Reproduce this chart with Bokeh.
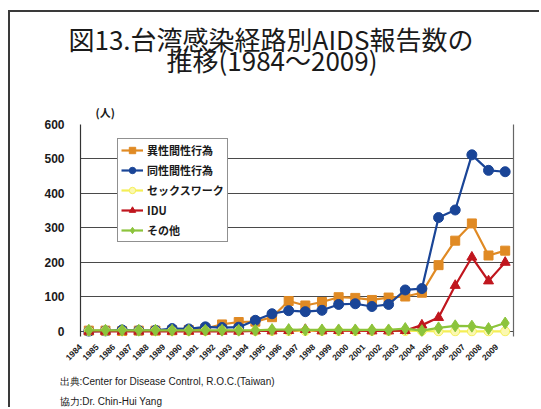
from bokeh.plotting import figure
from bokeh.models import Range1d, LinearAxis, FixedTicker, Title
from bokeh.embed import file_html
from bokeh.resources import INLINE

years = ["1984", "1985", "1986", "1987", "1988", "1989", "1990", "1991", "1992",
         "1993", "1994", "1995", "1996", "1997", "1998", "1999", "2000", "2001",
         "2002", "2003", "2004", "2005", "2006", "2007", "2008", "2009"]
hetero = [2, 2, 1, 2, 2, 3, 4, 8, 20, 27, 28, 41, 88, 75, 85, 99, 97, 91, 98, 101,
          112, 192, 263, 313, 220, 234]
homo = [0, 1, 4, 2, 3, 8, 7, 13, 11, 12, 32, 51, 60, 57, 61, 78, 80, 72, 78, 120,
        124, 330, 352, 512, 467, 463]
sexwork = [1, 1, 1, 1, 1, 1, 1, 1, 2, 2, 1, 1, 1, 1, 1, 1, 1, 1, 1, 1,
           1, 0, 0, 0, 0, 0]
idu = [0, 0, 0, 0, 0, 0, 0, 0, 0, 0, 1, 1, 2, 5, 1, 2, 2, 1, 1, 2,
       18, 40, 133, 215, 146, 200]
other = [3, 3, 3, 3, 3, 3, 3, 3, 3, 3, 3, 5, 5, 4, 4, 4, 4, 4, 4, 8,
         2, 10, 16, 15, 8, 24]
y_ticks = [0, 100, 200, 300, 400, 500, 600]

series = [
    ("異性間性行為", hetero, "#E08A24", "square", 9, "#E08A24"),
    ("同性間性行為", homo, "#1A4597", "circle", 10, "#1A4597"),
    ("セックスワーク", sexwork, "#F4EE55", "circle", 9, "#FBF8B0"),
    ("IDU", idu, "#C0161E", "triangle", 10, "#C0161E"),
    ("その他", other, "#8CC43C", "diamond", 12, "#8CC43C"),
]

# category slots: each year occupies one unit, point at slot centre
xs = [i + 0.5 for i in range(len(years))]
label_pos = [i for i in range(len(years))]  # labels drawn half a slot to the left

W, H = 531, 397
FL, FR, FT, FB = 70, 503, 112, 324   # frame edges in canvas px
NX = len(years)

p = figure(width=W, height=H,
           x_range=Range1d(0, NX),
           y_range=Range1d(-15, 600),
           output_backend="svg", toolbar_location=None,
           min_border_left=FL, min_border_right=W - FR,
           min_border_top=FT, min_border_bottom=H - FB,
           outline_line_color=None, background_fill_color="white",
           x_axis_location=None)
p.styles = {"border-top": "2px solid #3a3a3a", "border-left": "2px solid #3a3a3a",
            "margin-top": "10px", "margin-left": "8px"}

p.xgrid.visible = False

p.yaxis.ticker = FixedTicker(ticks=y_ticks)
p.yaxis.axis_line_color = "#333333"
p.yaxis.axis_line_width = 1.2
p.yaxis.major_tick_line_color = None
p.yaxis.minor_tick_line_color = None
p.yaxis.major_label_standoff = 10
p.yaxis.major_label_text_font = "Liberation Sans"
p.yaxis.major_label_text_font_style = "bold"
p.yaxis.major_label_text_font_size = "12px"
p.yaxis.major_label_text_color = "#1a1a1a"

p.ygrid.ticker = FixedTicker(ticks=y_ticks)
p.ygrid.grid_line_color = "#4a4a4a"
p.ygrid.grid_line_width = 1.2

right_axis = LinearAxis(ticker=FixedTicker(ticks=[]), axis_line_color="#666666",
                        axis_line_width=1.2, major_tick_line_color=None,
                        minor_tick_line_color=None, major_label_text_font_size="0px")
p.add_layout(right_axis, "right")

xlab = LinearAxis(ticker=FixedTicker(ticks=label_pos),
                  major_label_overrides={t: y for t, y in zip(label_pos, years)},
                  axis_line_color=None, major_tick_line_color=None,
                  minor_tick_line_color=None, major_label_orientation=0.785,
                  major_label_standoff=3,
                  major_label_text_font="Liberation Sans",
                  major_label_text_font_style="bold",
                  major_label_text_font_size="8.5px",
                  major_label_text_color="#1a1a1a")
p.add_layout(xlab, "below")

for name, vals, col, mk, sz, fill in series:
    p.line(xs, vals, line_color=col, line_width=2.2, legend_label=name)
    p.scatter(xs, vals, marker=mk, size=sz, fill_color=fill, line_color=col,
              line_width=1, legend_label=name)

lg = p.legend[0]
lg.location = (37, 94)
lg.label_text_font = "Noto Sans CJK JP"
lg.label_text_font_style = "bold"
lg.label_text_font_size = "11px"
lg.label_text_color = "#1a1a1a"
lg.label_height = 16
lg.glyph_height = 16
lg.glyph_width = 22
lg.label_standoff = 4
lg.spacing = 4
lg.padding = 3
lg.margin = 0
lg.border_line_color = "#222222"
lg.border_line_width = 1
lg.background_fill_color = "white"
lg.background_fill_alpha = 1.0

cjk = "Noto Sans CJK JP"
# above: first added sits closest to the frame
p.add_layout(Title(text="(人)", align="left", offset=15, standoff=9,
                   text_font=cjk, text_font_style="bold", text_font_size="11px",
                   text_color="#1a1a1a"), "above")
p.add_layout(Title(text="推移(1984～2009)", align="left", offset=86, standoff=40,
                   text_font=cjk, text_font_style="normal", text_font_size="26px",
                   text_color="#1a1a1a"), "above")
p.add_layout(Title(text="図13.台湾感染経路別AIDS報告数の", align="left", offset=-12,
                   standoff=-77, text_font=cjk, text_font_style="normal",
                   text_font_size="26px", text_color="#1a1a1a"), "above")
# below, after the year axis
p.add_layout(Title(text="出典:Center for Disease Control, R.O.C.(Taiwan)", align="left",
                   offset=-21, standoff=14, text_font="Liberation Sans",
                   text_font_style="normal", text_font_size="10px",
                   text_color="#1a1a1a"), "below")
p.add_layout(Title(text="協力:Dr.   Chin-Hui Yang", align="left",
                   offset=-21, standoff=0, text_font="Liberation Sans",
                   text_font_style="normal", text_font_size="10px",
                   text_color="#1a1a1a"), "below")

open("out.html", "w").write(file_html(p, INLINE))
